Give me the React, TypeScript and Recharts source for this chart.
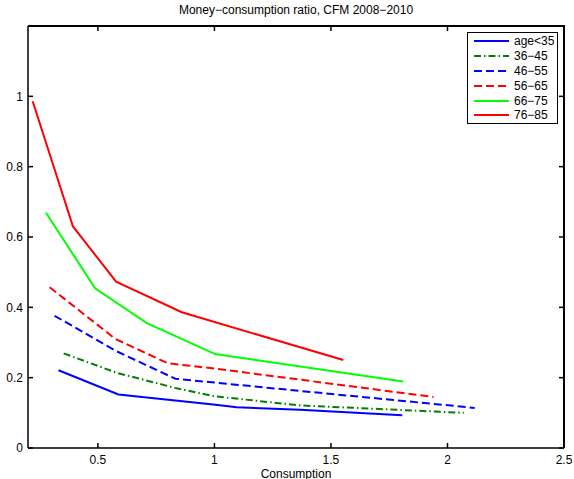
import { LineChart, Line, XAxis, YAxis } from "recharts"

// consumption (x) and money/consumption ratio (y)
const age35X = [0.331, 0.588, 0.995, 1.096, 1.367, 1.806]
const age35Y = [0.221, 0.152, 0.124, 0.116, 0.109, 0.093]
const age3645X = [0.353, 0.58, 0.83, 1.0, 1.37, 2.07]
const age3645Y = [0.269, 0.214, 0.171, 0.147, 0.121, 0.1]
const age4655X = [0.314, 0.58, 0.832, 1.0, 2.117]
const age4655Y = [0.376, 0.275, 0.197, 0.186, 0.114]
const age5665X = [0.293, 0.575, 0.8, 1.0, 1.94]
const age5665Y = [0.457, 0.31, 0.241, 0.226, 0.145]
const age6675X = [0.277, 0.488, 0.71, 1.003, 1.81]
const age6675Y = [0.669, 0.454, 0.355, 0.267, 0.189]
const age7685X = [0.22, 0.393, 0.578, 0.86, 1.553]
const age7685Y = [0.986, 0.63, 0.473, 0.386, 0.25]

const xDomain = [0.2, 2.5]
const yDomain = [0, 1.2]
const xTicks = [0.5, 1, 1.5, 2, 2.5]
const yTicks = [0, 0.2, 0.4, 0.6, 0.8, 1]

const toPoints = (xs: number[], ys: number[]) => xs.map((x, i) => ({ x, y: ys[i] }))

// the last series is bound to the top/right axes (same domains) so those get drawn too
const series = [
  { name: "age<35", data: toPoints(age35X, age35Y), color: "#0000ff", dash: undefined, xId: "bottom", yId: "left" },
  { name: "36\u221245", data: toPoints(age3645X, age3645Y), color: "#008000", dash: "7 3 1.5 3", xId: "bottom", yId: "left" },
  { name: "46\u221255", data: toPoints(age4655X, age4655Y), color: "#0000ff", dash: "8 4", xId: "bottom", yId: "left" },
  { name: "56\u221265", data: toPoints(age5665X, age5665Y), color: "#ff0000", dash: "8 4", xId: "bottom", yId: "left" },
  { name: "66\u221275", data: toPoints(age6675X, age6675Y), color: "#00ff00", dash: undefined, xId: "bottom", yId: "left" },
  { name: "76\u221285", data: toPoints(age7685X, age7685Y), color: "#ff0000", dash: undefined, xId: "top", yId: "right" },
]

const font = "'Liberation Sans', Arial, Helvetica, sans-serif"
const tickStyle = { fill: "#000", fontSize: 12, fontFamily: font }
const NoLabel = () => <g />

export default function App() {
  return (
    <div style={{ position: "absolute", left: 0, top: 0, width: 574, height: 479, background: "#fff", fontFamily: font }}>
      <div style={{ position: "absolute", left: 28, width: 536, top: 3, textAlign: "center", fontSize: 12 }}>
        Money{"\u2212"}consumption ratio, CFM 2008{"\u2212"}2010
      </div>
      <LineChart width={574} height={479} margin={{ top: 20, right: 4, bottom: 0, left: 0 }}>
        <XAxis
          xAxisId="bottom"
          dataKey="x"
          type="number"
          domain={xDomain}
          ticks={xTicks}
          height={31}
          stroke="#000"
          strokeWidth={1.5}
          tickSize={-5}
          tickMargin={12}
          tick={tickStyle}
          allowDataOverflow
          label={{ value: "Consumption", position: "insideBottom", offset: 1, fill: "#000", fontSize: 12, fontFamily: font }}
        />
        <XAxis
          xAxisId="top"
          orientation="top"
          dataKey="x"
          type="number"
          domain={xDomain}
          ticks={xTicks}
          height={6}
          stroke="#000"
          strokeWidth={1.5}
          tickSize={-5}
          tick={NoLabel}
          allowDataOverflow
        />
        <YAxis
          yAxisId="left"
          type="number"
          domain={yDomain}
          ticks={yTicks}
          width={28}
          stroke="#000"
          strokeWidth={1.5}
          tickSize={-5}
          tickMargin={10}
          tick={tickStyle}
          allowDataOverflow
        />
        <YAxis
          yAxisId="right"
          orientation="right"
          type="number"
          domain={yDomain}
          ticks={yTicks}
          width={6}
          stroke="#000"
          strokeWidth={1.5}
          tickSize={-5}
          tick={NoLabel}
          allowDataOverflow
        />
        {series.map((s) => (
          <Line
            key={s.name}
            xAxisId={s.xId}
            yAxisId={s.yId}
            data={s.data}
            dataKey="y"
            name={s.name}
            type="linear"
            stroke={s.color}
            strokeWidth={2}
            strokeDasharray={s.dash}
            dot={false}
            isAnimationActive={false}
          />
        ))}
      </LineChart>
      {/* top and right edges of the axes box */}
      <div
        style={{
          position: "absolute",
          left: 28,
          top: 25,
          width: 537,
          height: 423,
          borderTop: "2px solid #000",
          borderRight: "2px solid #000",
          boxSizing: "border-box",
          pointerEvents: "none",
        }}
      />
      <div
        style={{
          position: "absolute",
          left: 467,
          top: 32,
          width: 91,
          height: 92,
          border: "1.5px solid #000",
          background: "#fff",
          boxSizing: "border-box",
          paddingTop: 1,
        }}
      >
        {series.map((s) => (
          <div key={s.name} style={{ display: "flex", alignItems: "center", height: 14.8, fontSize: 12 }}>
            <svg width={42} height={8} style={{ display: "block" }}>
              <line x1={6} x2={41} y1={4} y2={4} stroke={s.color} strokeWidth={2} strokeDasharray={s.dash} />
            </svg>
            <span style={{ marginLeft: 4 }}>{s.name}</span>
          </div>
        ))}
      </div>
    </div>
  )
}
